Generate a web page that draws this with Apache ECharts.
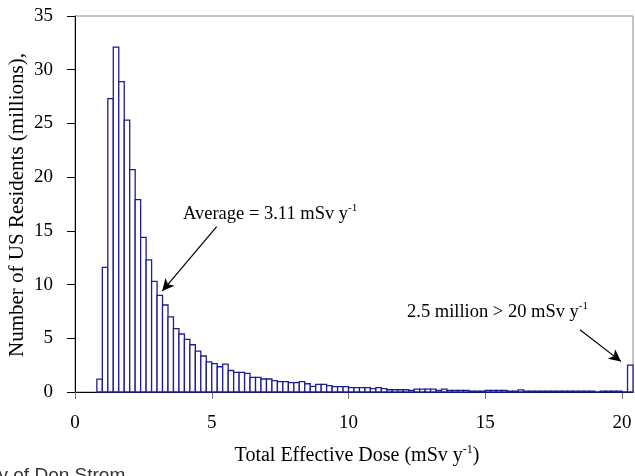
<!DOCTYPE html>
<html>
<head>
<meta charset="utf-8">
<script src="https://cdn.jsdelivr.net/npm/echarts@6/dist/echarts.min.js"></script>
<style>html,body{margin:0;padding:0;background:#fff;}#c{width:635px;height:476px;}</style>
</head>
<body>
<div id="c"></div>
<script>
// Lower edge of each dose bin (mSv/y); bin width 0.2
const binLower = [0.8,1.0,1.2,1.4,1.6,1.8,2.0,2.2,2.4,2.6,2.8,3.0,3.2,3.4,3.6,3.8,4.0,4.2,4.4,4.6,4.8,
  5.0,5.2,5.4,5.6,5.8,6.0,6.2,6.4,6.6,6.8,7.0,7.2,7.4,7.6,7.8,8.0,8.2,8.4,8.6,8.8,
  9.0,9.2,9.4,9.6,9.8,10.0,10.2,10.4,10.6,10.8,11.0,11.2,11.4,11.6,11.8,12.0,12.2,12.4,12.6,12.8,
  13.0,13.2,13.4,13.6,13.8,14.0,14.2,14.4,14.6,14.8,15.0,15.2,15.4,15.6,15.8,16.0,16.2,16.4,16.6,16.8,
  17.0,17.2,17.4,17.6,17.8,18.0,18.2,18.4,18.6,18.8,19.0,19.2,19.4,19.6,19.8,20.0,20.2];
const binWidth = 0.2;
// Number of US residents (millions) per bin
const residents = [1.2,11.6,27.3,32.1,28.9,25.3,20.7,17.9,14.4,12.3,10.3,9.0,8.1,7.0,5.9,5.4,4.9,4.4,3.8,3.35,2.8,
  2.65,2.35,2.6,2.0,1.83,1.83,1.74,1.37,1.37,1.21,1.21,1.05,0.96,0.96,0.87,0.87,0.96,0.77,0.53,0.71,
  0.71,0.59,0.5,0.5,0.5,0.4,0.4,0.4,0.4,0.31,0.4,0.31,0.21,0.21,0.21,0.21,0.15,0.26,0.26,0.26,
  0.26,0.15,0.26,0.15,0.15,0.15,0.15,0.08,0.08,0.08,0.15,0.15,0.15,0.15,0.08,0.08,0.2,0.08,0.08,0.08,
  0.08,0.08,0.08,0.08,0.08,0.08,0.08,0.08,0.08,0.08,0,0.08,0.08,0.08,0.08,0,2.5];
const xTicks = [0,5,10,15,20];
const yTicks = [0,5,10,15,20,25,30,35];

const chart = echarts.init(document.getElementById('c'), null, {renderer:'canvas'});
const serif = '"Liberation Serif","Times New Roman",serif';
const data = binLower.map((b,i)=>[b, b+binWidth, residents[i]]);
const richStyle = (fs, sfs, lh) => ({
  n:{fontFamily:serif,fontSize:fs,fill:'#000',verticalAlign:'bottom',lineHeight:lh},
  s:{fontFamily:serif,fontSize:sfs,fill:'#000',verticalAlign:'top',lineHeight:lh}
});

chart.setOption({
  animation:false,
  backgroundColor:'#fff',
  grid:{left:75,right:2,top:16,bottom:84,show:true,borderColor:'#8a8a8a',borderWidth:1,backgroundColor:'transparent'},
  xAxis:{type:'value',min:0,max:20.4,interval:5,
    axisLine:{show:true,onZero:false,lineStyle:{color:'#000',width:1}},
    axisTick:{show:true,inside:false,length:7,lineStyle:{color:'#777'}},
    axisLabel:{fontFamily:serif,fontSize:19,color:'#000',margin:22,showMaxLabel:false,
      formatter:v=>xTicks.includes(v)?String(v):''},
    splitLine:{show:false}},
  yAxis:{type:'value',min:0,max:35,interval:5,
    axisLine:{show:true,lineStyle:{color:'#000',width:1}},
    axisTick:{show:true,inside:false,length:8,lineStyle:{color:'#000'}},
    axisLabel:{fontFamily:serif,fontSize:19,color:'#000',margin:22,
      formatter:v=>yTicks.includes(v)?String(v):''},
    splitLine:{show:false}},
  series:[{
    type:'custom',
    data:data,
    encode:{x:[0,1],y:2},
    renderItem:function(params,api){
      const p0 = api.coord([api.value(0), api.value(2)]);
      const p1 = api.coord([api.value(1), 0]);
      return {type:'rect',
        shape:{x:p0[0],y:p0[1],width:p1[0]-p0[0],height:p1[1]-p0[1]},
        style:{fill:'#ffffff',stroke:'#1e1e94',lineWidth:1.3}};
    },
    z:2
  },{
    type:'line',
    data:[],
    markLine:{silent:true,symbol:['none','arrow'],symbolSize:[9,12],
      label:{show:false},
      lineStyle:{color:'#000',width:1.2,type:'solid'},
      data:[
        [{coord:[5.18,15.4]},{coord:[3.19,9.4]}],
        [{coord:[18.46,5.8]},{coord:[19.96,2.85]}]
      ]},
    z:5
  }],
  graphic:[
    {type:'text',left:183,top:203,style:{
      text:'{n|Average = 3.11 mSv y}{s|-1}', rich:richStyle(18.5,11,21)}},
    {type:'text',left:407,top:301,style:{
      text:'{n|2.5 million > 20 mSv y}{s|-1}', rich:richStyle(18.5,11,21)}},
    {type:'text',x:357,y:444,style:{
      text:'{n|Total Effective Dose (mSv y}{s|-1}{n|)}', align:'center', rich:richStyle(20,12,22)}},
    {type:'text',x:17,y:205,rotation:Math.PI/2,style:{
      text:'Number of US Residents (millions),',
      fontFamily:serif,fontSize:21,fill:'#000',align:'center',verticalAlign:'middle'}},
    {type:'text',left:-68,top:466,style:{
      text:'Courtesy of Don Strom',
      fontFamily:'"Liberation Sans",Arial,sans-serif',fontSize:19,fill:'#333'}}
  ]
});
</script>
</body>
</html>
